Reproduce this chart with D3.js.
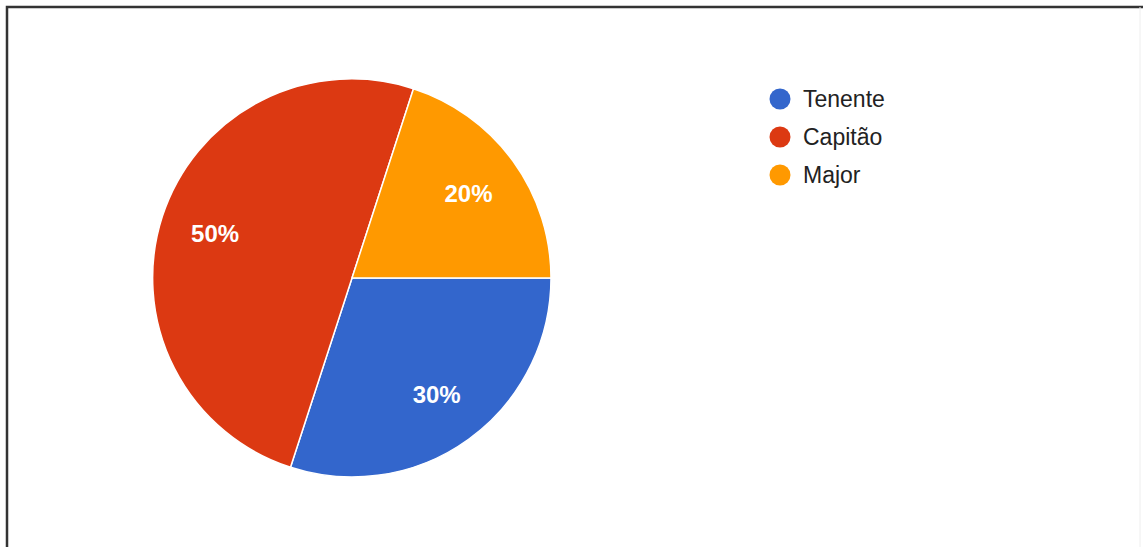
<!DOCTYPE html>
<html>
<head>
<meta charset="utf-8">
<script src="https://cdn.jsdelivr.net/npm/d3@7"></script>
<style>
  html, body { margin: 0; padding: 0; background: #fff; }
  svg { display: block; }
</style>
</head>
<body>
<div id="chart"></div>
<script>
// data
const categories = ["Tenente", "Capitão", "Major"];
const values = [30, 50, 20];
const colors = ["#3366cc", "#dc3912", "#ff9900"];

const width = 1143, height = 547;
const cx = 352, cy = 278, radius = 199;

const svg = d3.select("#chart").append("svg")
  .attr("width", width)
  .attr("height", height);

// frame around the chart
svg.append("path")
  .attr("d", `M7,${height} L7,7 L${width},7`)
  .attr("fill", "none")
  .attr("stroke", "#333")
  .attr("stroke-width", 2.5);
svg.append("line")
  .attr("x1", 1140).attr("y1", 7).attr("x2", 1140).attr("y2", height)
  .attr("stroke", "#eee").attr("stroke-width", 1);

const data = categories.map((c, i) => ({ name: c, value: values[i], color: colors[i] }));

// first slice starts at 3 o'clock, clockwise
const pie = d3.pie().value(d => d.value).sort(null)
  .startAngle(Math.PI / 2).endAngle(Math.PI / 2 + 2 * Math.PI);
const arc = d3.arc().innerRadius(0).outerRadius(radius);
const labelArc = d3.arc().innerRadius(144).outerRadius(144);

const g = svg.append("g").attr("transform", `translate(${cx},${cy})`);
const arcs = pie(data);

g.selectAll("path")
  .data(arcs)
  .join("path")
  .attr("d", arc)
  .attr("fill", d => d.data.color)
  .attr("stroke", "#fff")
  .attr("stroke-width", 1.5);

g.selectAll("text")
  .data(arcs)
  .join("text")
  .attr("transform", d => `translate(${labelArc.centroid(d)})`)
  .attr("text-anchor", "middle")
  .attr("dy", "0.36em")
  .attr("fill", "#fff")
  .style("font-family", "'Liberation Sans', Arial, sans-serif")
  .style("font-size", "24px")
  .style("font-weight", "bold")
  .text(d => d.data.value + "%");

// legend
const legend = svg.append("g").attr("transform", "translate(780,99)");
const item = legend.selectAll("g")
  .data(data)
  .join("g")
  .attr("transform", (d, i) => `translate(0,${i * 38})`);
item.append("circle")
  .attr("r", 10.5)
  .attr("fill", d => d.color);
item.append("text")
  .attr("x", 23)
  .attr("dy", "0.36em")
  .attr("fill", "#222")
  .style("font-family", "'Liberation Sans', Arial, sans-serif")
  .style("font-size", "23px")
  .text(d => d.name);
</script>
</body>
</html>
